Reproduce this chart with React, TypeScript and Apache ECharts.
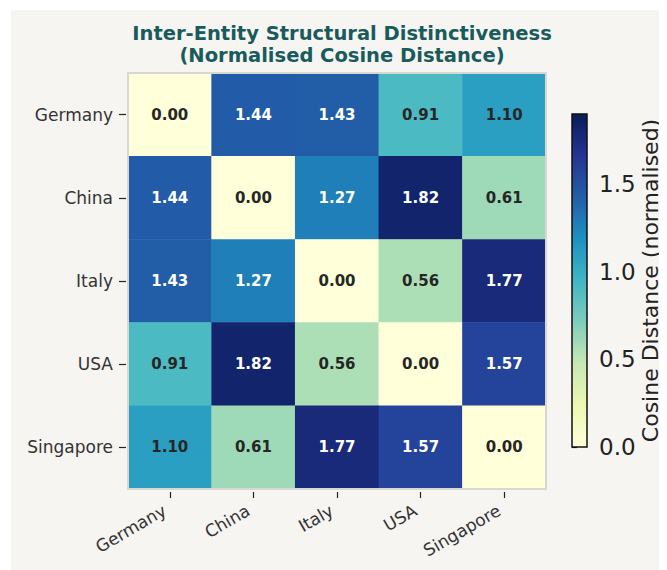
import React, { useEffect, useRef } from "react";
import * as echarts from "echarts";

const entities = ["Germany", "China", "Italy", "USA", "Singapore"];
const distanceRows = [
  [0.0, 1.44, 1.43, 0.91, 1.1],
  [1.44, 0.0, 1.27, 1.82, 0.61],
  [1.43, 1.27, 0.0, 0.56, 1.77],
  [0.91, 1.82, 0.56, 0.0, 1.57],
  [1.1, 0.61, 1.77, 1.57, 0.0],
];
const colorbarMax = 1.9;
const colorbarTicks = [0, 0.5, 1.0, 1.5];
const ylgnbu = ["#ffffd9", "#edf8b1", "#c7e9b4", "#7fcdbb", "#41b6c4", "#1d91c0", "#225ea8", "#253494", "#081d58"];

const HM = { left: 117, top: 63, width: 418, height: 416 };
const CB = { left: 561, top: 104, width: 15, height: 333 };

export default function App() {
  const ref = useRef<HTMLDivElement>(null);
  useEffect(() => {
    if (!ref.current) return;
    const chart = echarts.init(ref.current, null, { renderer: "svg" });
    const data: any[] = [];
    distanceRows.forEach((row, r) => {
      row.forEach((v, c) => {
        data.push({
          value: [c, r, v],
          label: { color: v > 1.2 ? "#ffffff" : "#262626" },
        });
      });
    });
    const font = "DejaVu Sans";
    chart.setOption({
      animation: false,
      backgroundColor: "#f6f5f2",
      textStyle: { fontFamily: font },
      title: {
        text: "Inter-Entity Structural Distinctiveness\n(Normalised Cosine Distance)",
        left: HM.left + HM.width / 2,
        textAlign: "center",
        top: 7,
        textStyle: { fontFamily: font, fontSize: 19.5, fontWeight: "bold", color: "#195b5c", lineHeight: 22 },
      },
      grid: [
        { left: HM.left, top: HM.top, width: HM.width, height: HM.height },
        { left: CB.left, top: CB.top, width: CB.width, height: CB.height },
      ],
      xAxis: [
        {
          type: "category",
          data: entities,
          gridIndex: 0,
          offset: 3,
          axisLine: { show: false },
          axisTick: { show: true, alignWithLabel: true, length: 6, lineStyle: { color: "#222", width: 1.2 } },
          axisLabel: { rotate: 30, fontSize: 17, color: "#333", margin: 14, padding: [0, 6, 0, 0], fontFamily: font },
          splitLine: { show: false },
        },
        { type: "value", gridIndex: 1, show: false, min: 0, max: 1 },
      ],
      yAxis: [
        {
          type: "category",
          data: entities,
          inverse: true,
          gridIndex: 0,
          offset: 2,
          axisLine: { show: false },
          axisTick: { show: true, alignWithLabel: true, length: 7, lineStyle: { color: "#222", width: 1.2 } },
          axisLabel: { fontSize: 17, color: "#333", margin: 13, fontFamily: font },
          splitLine: { show: false },
        },
        {
          type: "value",
          gridIndex: 1,
          position: "right",
          min: 0,
          max: colorbarMax,
          interval: 0.5,
          axisLine: { show: false },
          axisTick: { show: true, length: 5, lineStyle: { color: "#111", width: 1.2 } },
          axisLabel: {
            fontSize: 23,
            color: "#222",
            margin: 12,
            fontFamily: font,
            formatter: (v: number) => (colorbarTicks.some((t) => Math.abs(t - v) < 1e-6) ? v.toFixed(1) : ""),
          },
          splitLine: { show: false },
          name: "Cosine Distance (normalised)",
          nameLocation: "middle",
          nameRotate: 90,
          nameGap: 52,
          nameTextStyle: { fontSize: 22, color: "#222", fontFamily: font },
        },
      ],
      visualMap: {
        show: false,
        type: "continuous",
        min: 0,
        max: colorbarMax,
        seriesIndex: 0,
        inRange: { color: ylgnbu },
      },
      series: [
        {
          type: "heatmap",
          xAxisIndex: 0,
          yAxisIndex: 0,
          data,
          label: {
            show: true,
            fontSize: 15,
            fontWeight: "bold",
            fontFamily: font,
            formatter: (p: any) => p.value[2].toFixed(2),
          },
          itemStyle: { borderWidth: 0 },
        },
        { type: "scatter", xAxisIndex: 1, yAxisIndex: 1, data: [] },
      ],
      graphic: [
        {
          type: "rect",
          z: 100,
          shape: { x: HM.left, y: HM.top, width: HM.width, height: HM.height },
          style: { fill: "none", stroke: "#d9d7d1", lineWidth: 2 },
        },
        {
          type: "rect",
          z: 100,
          shape: { x: CB.left, y: CB.top, width: CB.width, height: CB.height },
          style: {
            fill: new echarts.graphic.LinearGradient(
              0,
              1,
              0,
              0,
              ylgnbu.map((c, i) => ({ offset: i / (ylgnbu.length - 1), color: c }))
            ),
            stroke: "#111",
            lineWidth: 1.5,
          },
        },
      ],
    });
    return () => chart.dispose();
  }, []);
  return <div ref={ref} style={{ width: 656, height: 560, marginLeft: 3, marginTop: 2 }} />;
}
